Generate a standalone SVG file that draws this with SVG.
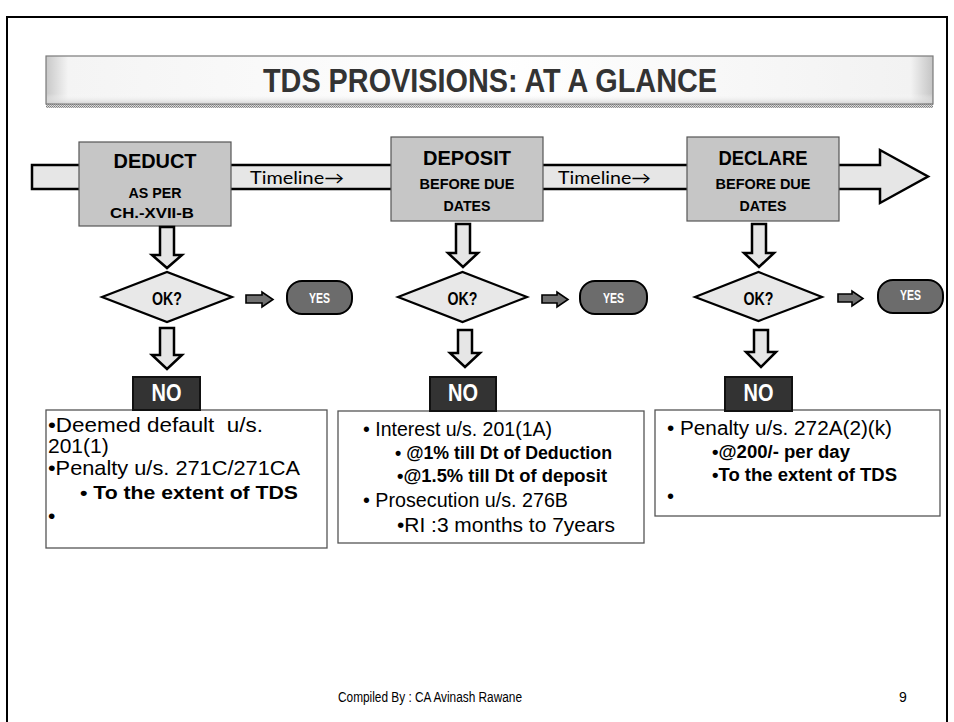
<svg xmlns="http://www.w3.org/2000/svg" width="954" height="722" viewBox="0 0 954 722">
  <defs>
    <linearGradient id="bannerH" x1="0" y1="0" x2="1" y2="0">
      <stop offset="0" stop-color="#c8c8c8"/>
      <stop offset="0.025" stop-color="#f4f4f4"/>
      <stop offset="0.5" stop-color="#ffffff"/>
      <stop offset="0.975" stop-color="#f2f2f2"/>
      <stop offset="1" stop-color="#c4c4c4"/>
    </linearGradient>
    <linearGradient id="bannerV" x1="0" y1="0" x2="0" y2="1">
      <stop offset="0" stop-color="#ffffff" stop-opacity="0"/>
      <stop offset="0.8" stop-color="#ffffff" stop-opacity="0"/>
      <stop offset="1" stop-color="#d4d4d4" stop-opacity="0.8"/>
    </linearGradient>
    <pattern id="hatch" width="2" height="2" patternUnits="userSpaceOnUse">
      <rect width="2" height="2" fill="#dcdcdc"/>
      <rect width="1" height="1" fill="#7a7a7a"/>
      <rect x="1" y="1" width="1" height="1" fill="#9a9a9a"/>
    </pattern>
  </defs>
  <style>
    .cond { font-family: "Liberation Sans", Arial, sans-serif; font-weight: bold; }
    .body { font-family: "Liberation Sans", Arial, sans-serif; fill: #000; }
    .bold { font-weight: bold; }
    .light { font-family: "Lato", "Open Sans", sans-serif; font-weight: 400; fill: #000; }
    .step { fill: #c6c6c6; stroke: #555; stroke-width: 1.2; }
    .hollow { fill: #e6e6e6; stroke: #000; stroke-width: 2.5; stroke-linejoin: miter; }
    .diamond { fill: #e8e8e8; stroke: #000; stroke-width: 2.2; }
    .push { fill: #707070; stroke: #000; stroke-width: 1.6; }
    .yes { fill: #6c6c6c; stroke: #000; stroke-width: 2; }
    .no { fill: #333; stroke: #111; stroke-width: 2; }
    .note { fill: #fff; stroke: #555; stroke-width: 1.3; }
  </style>

  <!-- slide frame -->
  <rect x="7" y="17" width="940" height="720" fill="#fff" stroke="#000" stroke-width="2"/>

  <!-- heading banner -->
  <g id="title">
    <rect x="46" y="104" width="887" height="4" fill="url(#hatch)"/>
    <rect x="46" y="56" width="887" height="48" fill="url(#bannerH)" stroke="#7a7a7a" stroke-width="1.2"/>
    <rect x="47" y="57" width="885" height="46" fill="url(#bannerV)"/>
    <text x="490" y="92" text-anchor="middle" class="cond" font-size="34" fill="#333" textLength="454" lengthAdjust="spacingAndGlyphs">TDS PROVISIONS: AT A GLANCE</text>
  </g>

  <!-- timeline band -->
  <g id="timeline">
    <polygon class="hollow" points="32,165 880,165 880,150 928,176.5 880,203 880,189 32,189"/>
    <text x="250" y="184" class="light" font-size="17" textLength="94" lengthAdjust="spacingAndGlyphs">Timeline→</text>
    <text x="558" y="184" class="light" font-size="17" textLength="93" lengthAdjust="spacingAndGlyphs">Timeline→</text>
  </g>

  <!-- stage boxes -->
  <g id="deduct">
    <rect class="step" x="79" y="142" width="152" height="84"/>
    <text x="155" y="168" text-anchor="middle" class="cond" font-size="21" textLength="83" lengthAdjust="spacingAndGlyphs">DEDUCT</text>
    <text x="155" y="198" text-anchor="middle" class="cond" font-size="15" textLength="53" lengthAdjust="spacingAndGlyphs">AS PER</text>
    <text x="152" y="218" text-anchor="middle" class="cond" font-size="15" textLength="84" lengthAdjust="spacingAndGlyphs">CH.-XVII-B</text>
  </g>
  <g id="deposit">
    <rect class="step" x="391" y="137" width="152" height="84"/>
    <text x="467" y="165" text-anchor="middle" class="cond" font-size="21" textLength="88" lengthAdjust="spacingAndGlyphs">DEPOSIT</text>
    <text x="467" y="189" text-anchor="middle" class="cond" font-size="15" textLength="95" lengthAdjust="spacingAndGlyphs">BEFORE DUE</text>
    <text x="467" y="211" text-anchor="middle" class="cond" font-size="15" textLength="47" lengthAdjust="spacingAndGlyphs">DATES</text>
  </g>
  <g id="declare">
    <rect class="step" x="687" y="137" width="152" height="84"/>
    <text x="763" y="165" text-anchor="middle" class="cond" font-size="21" textLength="89" lengthAdjust="spacingAndGlyphs">DECLARE</text>
    <text x="763" y="189" text-anchor="middle" class="cond" font-size="15" textLength="95" lengthAdjust="spacingAndGlyphs">BEFORE DUE</text>
    <text x="763" y="211" text-anchor="middle" class="cond" font-size="15" textLength="47" lengthAdjust="spacingAndGlyphs">DATES</text>
  </g>

  <!-- decision diamonds -->
  <g id="check-deduct">
    <polygon class="diamond" points="102,297 167,272 232,297 167,322"/>
    <text x="167" y="305" text-anchor="middle" class="cond" font-size="18" textLength="30" lengthAdjust="spacingAndGlyphs">OK?</text>
  </g>
  <g id="check-deposit">
    <polygon class="diamond" points="398,297 462.5,272 527,297 462.5,322"/>
    <text x="462.5" y="305" text-anchor="middle" class="cond" font-size="18" textLength="30" lengthAdjust="spacingAndGlyphs">OK?</text>
  </g>
  <g id="check-declare">
    <polygon class="diamond" points="695,297 758.5,272 822,297 758.5,321"/>
    <text x="758.5" y="305" text-anchor="middle" class="cond" font-size="18" textLength="30" lengthAdjust="spacingAndGlyphs">OK?</text>
  </g>

  <!-- YES outcomes -->
  <g id="yes-deduct">
    <rect class="yes" x="287" y="281" width="65" height="33" rx="15"/>
    <text x="319.5" y="303" text-anchor="middle" class="cond" font-size="14" fill="#fff" textLength="21" lengthAdjust="spacingAndGlyphs">YES</text>
  </g>
  <g id="yes-deposit">
    <rect class="yes" x="580" y="281" width="67" height="33" rx="15"/>
    <text x="613.5" y="303" text-anchor="middle" class="cond" font-size="14" fill="#fff" textLength="21" lengthAdjust="spacingAndGlyphs">YES</text>
  </g>
  <g id="yes-declare">
    <rect class="yes" x="878" y="280" width="65" height="33" rx="15"/>
    <text x="910.5" y="300" text-anchor="middle" class="cond" font-size="14" fill="#fff" textLength="21" lengthAdjust="spacingAndGlyphs">YES</text>
  </g>

  <!-- connectors -->
  <g id="connectors">
    <!-- stage to check -->
    <polygon class="hollow" points="160,227 174,227 174,255 182,255 167,268 152,255 160,255"/>
    <polygon class="hollow" points="456,224 470,224 470,253 478,253 463,267 448,253 456,253"/>
    <polygon class="hollow" points="752,224 766,224 766,253 774,253 759,267 744,253 752,253"/>
    <!-- check to NO -->
    <polygon class="hollow" points="160,328 174,328 174,355 182,355 167,369 152,355 160,355"/>
    <polygon class="hollow" points="458,330 472,330 472,353 480,353 465,367 450,353 458,353"/>
    <polygon class="hollow" points="754,330 768,330 768,352 776,352 761,367 746,352 754,352"/>
    <!-- check to YES -->
    <polygon class="push" points="246,295 262,295 262,292 273,299.5 262,307 262,303 246,303"/>
    <polygon class="push" points="542,295 557,295 557,292 568,299.5 557,307 557,303 542,303"/>
    <polygon class="push" points="838,294 852,294 852,291 863,298.5 852,306 852,302 838,302"/>
  </g>

  <!-- consequence notes -->
  <g id="note-deduct">
    <rect class="note" x="46" y="410" width="281" height="138"/>
    <text class="body" font-size="21" x="48" y="432" xml:space="preserve" textLength="215" lengthAdjust="spacingAndGlyphs">•Deemed default  u/s.</text>
    <text class="body" font-size="21" x="48" y="453">201(1)</text>
    <text class="body" font-size="21" x="48" y="475" textLength="252" lengthAdjust="spacingAndGlyphs">•Penalty u/s. 271C/271CA</text>
    <text class="body bold" font-size="17.5" x="80" y="499" textLength="218" lengthAdjust="spacingAndGlyphs">• To the extent of TDS</text>
    <text class="body" font-size="21" x="48" y="523">•</text>
  </g>
  <g id="no-deduct">
    <rect class="no" x="133" y="377" width="67" height="33"/>
    <text x="166.5" y="401" text-anchor="middle" class="cond" font-size="23" fill="#fff" textLength="30" lengthAdjust="spacingAndGlyphs">NO</text>
  </g>

  <g id="note-deposit">
    <rect class="note" x="338" y="411" width="306" height="132" stroke="#222"/>
    <text class="body" font-size="20" x="363" y="436" textLength="189" lengthAdjust="spacingAndGlyphs">• Interest u/s. 201(1A)</text>
    <text class="body bold" font-size="17.5" x="395" y="459" textLength="217" lengthAdjust="spacingAndGlyphs">• @1% till Dt of Deduction</text>
    <text class="body bold" font-size="17.5" x="397" y="482" textLength="210" lengthAdjust="spacingAndGlyphs">•@1.5% till Dt of deposit</text>
    <text class="body" font-size="20" x="363" y="507" textLength="205" lengthAdjust="spacingAndGlyphs">• Prosecution u/s. 276B</text>
    <text class="body" font-size="20" x="397" y="532" textLength="218" lengthAdjust="spacingAndGlyphs">•RI :3 months to 7years</text>
  </g>
  <g id="no-deposit">
    <rect class="no" x="430" y="377" width="66" height="34"/>
    <text x="463" y="401" text-anchor="middle" class="cond" font-size="23" fill="#fff" textLength="30" lengthAdjust="spacingAndGlyphs">NO</text>
  </g>

  <g id="note-declare">
    <rect class="note" x="655" y="410" width="285" height="106"/>
    <text class="body" font-size="20" x="667" y="435" textLength="225" lengthAdjust="spacingAndGlyphs">• Penalty u/s. 272A(2)(k)</text>
    <text class="body bold" font-size="17.5" x="712" y="458" textLength="138" lengthAdjust="spacingAndGlyphs">•@200/- per day</text>
    <text class="body bold" font-size="17.5" x="712" y="481" textLength="185" lengthAdjust="spacingAndGlyphs">•To the extent of TDS</text>
    <text class="body" font-size="20" x="667" y="503">•</text>
  </g>
  <g id="no-declare">
    <rect class="no" x="725" y="377" width="67" height="34"/>
    <text x="758.5" y="401" text-anchor="middle" class="cond" font-size="23" fill="#fff" textLength="30" lengthAdjust="spacingAndGlyphs">NO</text>
  </g>

  <!-- footer -->
  <g id="footer">
    <text class="body" font-size="14" x="338" y="702" textLength="184" lengthAdjust="spacingAndGlyphs">Compiled By : CA Avinash Rawane</text>
    <text class="body" font-size="14" x="899" y="702">9</text>
  </g>
</svg>
